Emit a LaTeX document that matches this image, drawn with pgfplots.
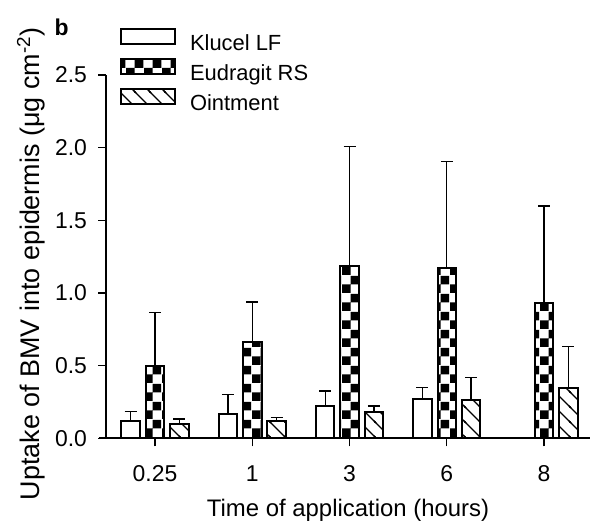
\documentclass[border=0pt]{standalone}
\usepackage{fontspec}
\setmainfont{Liberation Sans}
\usepackage{pgfplots}
\pgfplotsset{compat=1.18}
\usetikzlibrary{patterns}

% checkerboard for Eudragit RS
\pgfdeclarepatternformonly{checks}{\pgfpoint{0bp}{0bp}}{\pgfpoint{18bp}{18bp}}{\pgfpoint{18bp}{18bp}}{%
  \pgfpathrectangle{\pgfpoint{0bp}{0bp}}{\pgfpoint{9bp}{9bp}}%
  \pgfpathrectangle{\pgfpoint{9bp}{9bp}}{\pgfpoint{9bp}{9bp}}%
  \pgfusepath{fill}}
% back-slash hatch for Ointment
\pgfdeclarepatternformonly{hatch}{\pgfpoint{-1bp}{-1bp}}{\pgfpoint{16bp}{16bp}}{\pgfpoint{15bp}{15bp}}{%
  \pgfsetlinewidth{1.3bp}%
  \pgfpathmoveto{\pgfpoint{-1bp}{16bp}}\pgfpathlineto{\pgfpoint{16bp}{-1bp}}%
  \pgfpathmoveto{\pgfpoint{-1bp}{1bp}}\pgfpathlineto{\pgfpoint{1bp}{-1bp}}%
  \pgfpathmoveto{\pgfpoint{14bp}{16bp}}\pgfpathlineto{\pgfpoint{16bp}{14bp}}%
  \pgfusepath{stroke}}

\pgfplotsset{
  boxlegend/.style={legend image code/.code={
      \draw[##1, line width=1.8bp] (0bp,0.5bp) rectangle (54bp,15.5bp);
      \path (68bp,0bp);}},
}

\begin{document}
\begin{tikzpicture}
\path[use as bounding box] (-106.4bp,-88.7bp) rectangle (483.6bp,438.3bp);
\begin{axis}[
  scale only axis,
  width=483.6bp, height=363.3bp,
  xmin=-0.5, xmax=4.473, ymin=0, ymax=2.5,
  clip=false,
  ybar=5.8bp, bar width=18.5bp,
  axis lines=left,
  axis line style={-, line width=1.9bp},
  x axis line style={shorten <=-7.4bp},
  tick align=outside,
  major tick length=8bp,
  tick style={line width=1.3bp, black},
  xtick={0,1,2,3,4},
  xticklabels={0.25,1,3,6,8},
  ytick={0,0.5,1,1.5,2,2.5},
  yticklabel style={xshift=-8bp, /pgf/number format/.cd, fixed, fixed zerofill, precision=1, assume math mode=true},
  tick label style={font=\fontsize{23}{23}\selectfont},
  xticklabel style={yshift=-16bp},
  xlabel={Time of application (hours)},
  ylabel={Uptake of BMV into epidermis (μg cm\textsuperscript{-2})},
  xlabel style={font=\fontsize{24}{24}\selectfont, at={(axis description cs:0.4996,-0.197)}, anchor=center},
  ylabel style={font=\fontsize{27}{27}\selectfont, at={(axis description cs:-0.156,0.48)}, anchor=center},
  legend cell align=left,
  legend style={draw=none, fill=none, at={(axis description cs:0.028,1.129)},
    anchor=north west, inner sep=0pt, row sep=3bp,
    nodes={inner sep=0pt, text height=16bp, text depth=5bp, font=\fontsize{22}{22}\selectfont}},
  error bars/error bar style={line width=1.4bp, black},
  error bars/error mark options={line width=1.4bp, black, rotate=90, mark size=6bp},
  every axis plot/.append style={draw=black, line width=2bp},
]
\addplot[fill=white, boxlegend,
  error bars/.cd, y dir=plus, y explicit]
  coordinates {(0,0.117) +- (0,0.066) (1,0.169) +- (0,0.131) (2,0.224) +- (0,0.102) (3,0.273) +- (0,0.075)};
\addlegendentry{Klucel LF}
\addplot[pattern=checks, boxlegend,
  error bars/.cd, y dir=plus, y explicit]
  coordinates {(0,0.498) +- (0,0.366) (1,0.661) +- (0,0.277) (2,1.186) +- (0,0.821) (3,1.170) +- (0,0.734) (4,0.933) +- (0,0.666)};
\addlegendentry{Eudragit RS}
\addplot[pattern=hatch, boxlegend,
  error bars/.cd, y dir=plus, y explicit]
  coordinates {(0,0.100) +- (0,0.033) (1,0.117) +- (0,0.025) (2,0.179) +- (0,0.043) (3,0.266) +- (0,0.151) (4,0.344) +- (0,0.286)};
\addlegendentry{Ointment}
\end{axis}
\node[font=\bfseries\fontsize{23}{23}\selectfont] at (-44.9bp,410.8bp) {b};
\end{tikzpicture}
\end{document}
